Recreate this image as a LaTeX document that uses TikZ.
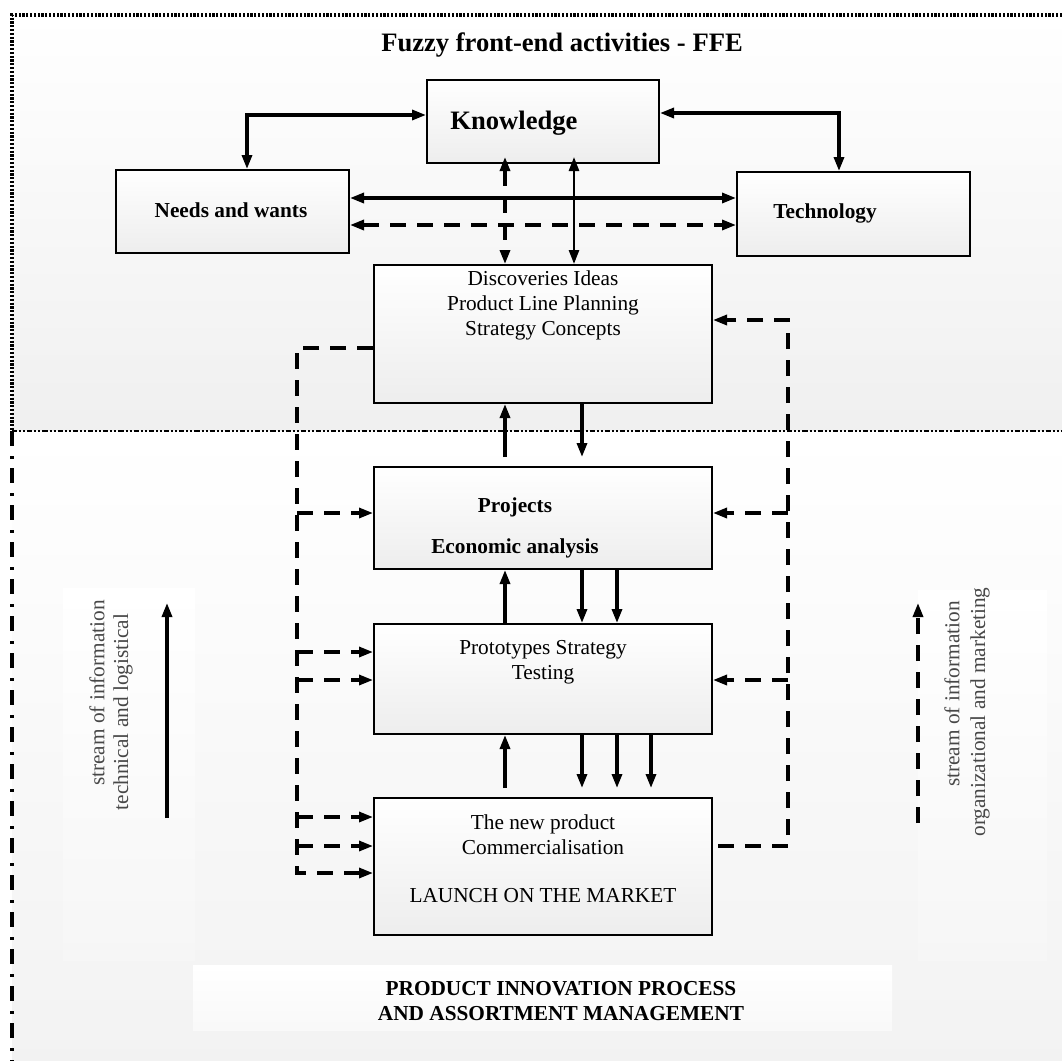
\documentclass[tikz,border=0pt]{standalone}
\usepackage{fontspec}
\setmainfont{Liberation Serif}
\usetikzlibrary{arrows.meta,fit}

\begin{document}
\begin{tikzpicture}[x=0.5pt,y=-0.5pt,
  every node/.style={font=\fontsize{10.65}{12.5}\selectfont, inner sep=0pt},
  box/.style={draw=black, line width=1pt, inner sep=0pt, top color=white, bottom color=black!7, fit={#1}},
  txt/.style={align=center},
  btxt/.style={align=center, font=\bfseries\fontsize{10.65}{12.5}\selectfont},
  big/.style={font=\bfseries\fontsize{13.3}{16}\selectfont},
  side/.style={rotate=90, text=black!72},
  >={Triangle[length=7pt,width=5pt]},
  sol/.style={line width=1.6pt},
  thin sol/.style={line width=1.3pt},
  dsh/.style={line width=1.6pt, dash pattern=on 8pt off 5.5pt},
]
\useasboundingbox (0,0) rectangle (1062,1061);

% shaded panels of the two zones
\shade[top color=white, bottom color=black!6] (12,15) rectangle (1062,431);
\shade[top color=white, bottom color=black!5] (12,431) rectangle (1062,1061);
\shade[top color=white, bottom color=black!3.5] (63,588) rectangle (195,960);
\shade[top color=white, bottom color=black!3.5] (918,590) rectangle (1047,960);
\shade[top color=white, bottom color=black!2.5] (193,965) rectangle (892,1030);

% zone borders
\draw[line width=1.6pt, dash pattern=on 1.1pt off 0.8pt] (1062,15) -- (12,15) -- (12,431);
\draw[line width=1.4pt, dash pattern=on 2.6pt off 1pt on 1pt off 1pt on 1pt off 1pt] (12,431) -- (1062,431);
\draw[line width=1.6pt, dash pattern=on 7.5pt off 5pt on 1.5pt off 4.5pt] (12,431) -- (12,1061);

% title
\node[big] (title) at (562,45) {Fuzzy front-end activities - FFE};

% boxes
\node[box={(427,80) (659,163)}] (know) {};
\node[box={(116,170) (349,253)}] (needs) {};
\node[box={(737,172) (970,256)}] (tech) {};
\node[box={(374,265) (712,403)}] (disc) {};
\node[box={(374,467) (712,569)}] (proj) {};
\node[box={(374,624) (712,734)}] (proto) {};
\node[box={(374,798) (712,935)}] (newp) {};

% box texts
\node[big] (know-t) at (514,123) {Knowledge};
\node[btxt] (needs-t) at (231,210) {Needs and wants};
\node[btxt] (tech-t) at (825,213) {Technology};
\node[txt] (disc-t) at (543,305) {Discoveries Ideas\\Product Line Planning\\Strategy Concepts};
\node[btxt] (proj-t1) at (515,507) {Projects};
\node[btxt] (proj-t2) at (515,548) {Economic analysis};
\node[txt] (proto-t) at (543,662) {Prototypes Strategy\\Testing};
\node[txt] (newp-t1) at (543,835) {The new product\\Commercialisation};
\node[txt] (newp-t2) at (543,896) {LAUNCH ON THE MARKET};
\node[btxt] (foot) at (561,1001) {PRODUCT INNOVATION PROCESS\\AND ASSORTMENT MANAGEMENT};

% side captions
\node[side] (ls1) at (97,693) {stream of information};
\node[side] (ls2) at (123,712) {technical and logistical};
\node[side] (rs1) at (952,694) {stream of information};
\node[side] (rs2) at (980,712) {organizational and marketing};

% links around knowledge
\coordinate (kn-nd) at (247,115);
\coordinate (kn-tc) at (839,113);
\coordinate (h-sol) at (0,198);
\coordinate (h-dsh) at (0,225);
\coordinate (v-dsh) at (505,0);
\coordinate (v-sol) at (574,0);
\draw[sol,<->] (know.west |- kn-nd) -| (needs.north -| kn-nd);
\draw[sol,<->] (know.east |- kn-tc) -| (tech.north -| kn-tc);
\draw[sol,<->] (needs.east |- h-sol) -- (tech.west |- h-sol);
\draw[dsh,<->] (needs.east |- h-dsh) -- (tech.west |- h-dsh);
\draw[dsh,<->] ([yshift=3.5pt]know.south -| v-dsh) -- (disc.north -| v-dsh);
\draw[thin sol,<->] ([yshift=3.5pt]know.south -| v-sol) -- (disc.north -| v-sol);

% feedback loop on the left
\coordinate (L0) at (297,348);
\coordinate (L1) at (297,513);
\coordinate (L2) at (297,652);
\coordinate (L3) at (297,680);
\coordinate (L4) at (297,817);
\coordinate (L5) at (297,846);
\coordinate (L6) at (297,873);
\draw[dsh,->] (disc.west |- L0) -- (L0) -- (L6) -- (newp.west |- L6);
\draw[dsh,->] (L1) -- (proj.west |- L1);
\draw[dsh,->] (L2) -- (proto.west |- L2);
\draw[dsh,->] (L3) -- (proto.west |- L3);
\draw[dsh,->] (L4) -- (newp.west |- L4);
\draw[dsh,->] (L5) -- (newp.west |- L5);

% feedback loop on the right
\coordinate (R0) at (788,320);
\coordinate (R1) at (788,513);
\coordinate (R2) at (788,680);
\coordinate (R3) at (788,846);
\draw[dsh,->] ([xshift=2.5pt]newp.east |- R3) -- (R3) -- (R0) -- (disc.east |- R0);
\draw[dsh,->] (R1) -- (proj.east |- R1);
\draw[dsh,->] (R2) -- (proto.east |- R2);

% main process flow
\coordinate (c1) at (505,0);
\coordinate (c2) at (582,0);
\coordinate (c3) at (617,0);
\coordinate (c4) at (651,0);
\draw[sol,->,shorten <=4.5pt] (proj.north -| c1) -- (disc.south -| c1);
\draw[sol,->,shorten >=4.5pt] (disc.south -| c2) -- (proj.north -| c2);
\draw[sol,->] (proto.north -| c1) -- (proj.south -| c1);
\draw[sol,->] (proj.south -| c2) -- (proto.north -| c2);
\draw[sol,->] (proj.south -| c3) -- (proto.north -| c3);
\draw[sol,->,shorten <=4.5pt] (newp.north -| c1) -- (proto.south -| c1);
\draw[sol,->,shorten >=4.5pt] (proto.south -| c2) -- (newp.north -| c2);
\draw[sol,->,shorten >=4.5pt] (proto.south -| c3) -- (newp.north -| c3);
\draw[sol,->,shorten >=4.5pt] (proto.south -| c4) -- (newp.north -| c4);

% information streams
\coordinate (sl0) at (167,818);
\coordinate (sl1) at (167,603);
\coordinate (sr0) at (918,823);
\coordinate (sr1) at (918,603);
\draw[sol,->] (sl0) -- (sl1);
\draw[dsh,->] (sr0) -- (sr1);
\end{tikzpicture}
\end{document}
